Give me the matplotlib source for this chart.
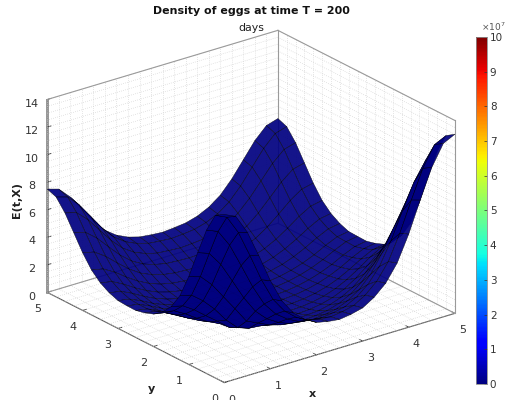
import numpy as np
import matplotlib
matplotlib.use("Agg")
import matplotlib.pyplot as plt
from matplotlib.cm import ScalarMappable
from matplotlib.colors import Normalize

# -----------------------------
# DATA
# -----------------------------
x_vals = np.arange(21) * 0.25
y_vals = np.arange(21) * 0.25
x_ticks = [0, 1, 2, 3, 4, 5]
y_ticks = [0, 1, 2, 3, 4, 5]
z_ticks = [0, 2, 4, 6, 8, 10, 12, 14]
cbar_ticks = [0, 1, 2, 3, 4, 5, 6, 7, 8, 9, 10]
color_max = 1e8

# one row per y, one column per x
density = [
    [12.2, 11.81, 10.41, 8.45, 6.39, 4.67, 3.54, 2.83, 2.35, 2.17, 2.07, 2.19, 2.4, 2.92, 3.69, 4.91, 6.76, 8.98, 11.09, 12.58, 13.0],
    [11.81, 11.42, 10.06, 8.14, 6.13, 4.46, 3.36, 2.66, 2.2, 2.02, 1.93, 2.05, 2.25, 2.76, 3.51, 4.69, 6.5, 8.66, 10.71, 12.17, 12.58],
    [10.41, 10.06, 8.82, 7.09, 5.3, 3.8, 2.82, 2.2, 1.78, 1.63, 1.54, 1.65, 1.83, 2.28, 2.95, 4.01, 5.62, 7.55, 9.4, 10.72, 11.09],
    [8.45, 8.14, 7.1, 5.65, 4.17, 2.95, 2.14, 1.63, 1.29, 1.17, 1.1, 1.19, 1.33, 1.69, 2.24, 3.11, 4.42, 6.01, 7.55, 8.66, 8.98],
    [6.39, 6.14, 5.3, 4.17, 3.05, 1.9, 1.51, 1.12, 0.87, 0.79, 0.72, 0.79, 0.9, 1.16, 1.58, 2.23, 3.22, 4.42, 5.61, 6.49, 6.76],
    [4.67, 4.46, 3.8, 2.95, 1.9, 1.1, 0.8, 0.72, 0.54, 0.49, 0.44, 0.5, 0.56, 0.75, 1.05, 1.52, 2.23, 3.11, 4.01, 4.69, 4.91],
    [3.54, 3.36, 2.82, 2.14, 1.5, 0.8, 0.5, 0.44, 0.32, 0.28, 0.24, 0.28, 0.33, 0.46, 0.69, 1.05, 1.58, 2.24, 2.95, 3.51, 3.69],
    [2.83, 2.67, 2.2, 1.63, 1.12, 0.72, 0.44, 0.27, 0.17, 0.14, 0.11, 0.15, 0.18, 0.28, 0.46, 0.75, 1.16, 1.69, 2.28, 2.76, 2.92],
    [2.35, 2.2, 1.79, 1.3, 0.87, 0.55, 0.32, 0.17, 0.1, 0.08, 0.05, 0.09, 0.11, 0.18, 0.33, 0.56, 0.89, 1.33, 1.83, 2.25, 2.4],
    [2.11, 1.97, 1.58, 1.13, 0.75, 0.47, 0.26, 0.14, 0.08, 0.06, 0.04, 0.06, 0.08, 0.14, 0.27, 0.48, 0.77, 1.15, 1.61, 2.0, 2.14],
    [1.96, 1.82, 1.45, 1.02, 0.67, 0.41, 0.22, 0.1, 0.05, 0.03, 0.02, 0.03, 0.05, 0.1, 0.22, 0.41, 0.68, 1.03, 1.46, 1.83, 1.97],
    [1.97, 1.83, 1.46, 1.04, 0.69, 0.43, 0.24, 0.12, 0.07, 0.05, 0.04, 0.05, 0.07, 0.12, 0.24, 0.43, 0.7, 1.05, 1.48, 1.85, 1.99],
    [2.02, 1.88, 1.51, 1.07, 0.72, 0.45, 0.26, 0.13, 0.08, 0.06, 0.05, 0.06, 0.08, 0.13, 0.26, 0.45, 0.72, 1.07, 1.51, 1.88, 2.02],
    [2.26, 2.12, 1.72, 1.25, 0.85, 0.55, 0.33, 0.2, 0.13, 0.11, 0.09, 0.11, 0.13, 0.2, 0.34, 0.55, 0.86, 1.26, 1.73, 2.13, 2.27],
    [2.65, 2.5, 2.06, 1.54, 1.09, 0.73, 0.49, 0.33, 0.25, 0.23, 0.21, 0.23, 0.26, 0.34, 0.49, 0.74, 1.1, 1.56, 2.08, 2.52, 2.67],
    [3.26, 3.09, 2.61, 2.0, 1.46, 1.03, 0.73, 0.55, 0.45, 0.41, 0.38, 0.42, 0.45, 0.55, 0.74, 1.04, 1.47, 2.02, 2.63, 3.12, 3.29],
    [4.18, 3.99, 3.42, 2.69, 2.01, 1.46, 1.09, 0.85, 0.72, 0.67, 0.63, 0.67, 0.72, 0.86, 1.09, 1.47, 2.03, 2.72, 3.46, 4.03, 4.22],
    [5.3, 5.09, 4.42, 3.54, 2.69, 2.01, 1.54, 1.25, 1.07, 1.01, 0.97, 1.01, 1.08, 1.26, 1.55, 2.02, 2.72, 3.58, 4.47, 5.15, 5.36],
    [6.42, 6.19, 5.43, 4.42, 3.42, 2.61, 2.06, 1.72, 1.5, 1.43, 1.37, 1.43, 1.51, 1.73, 2.08, 2.63, 3.46, 4.47, 5.49, 6.26, 6.5],
    [7.25, 7.0, 6.18, 5.09, 3.99, 3.09, 2.5, 2.12, 1.88, 1.79, 1.73, 1.79, 1.89, 2.13, 2.51, 3.12, 4.03, 5.15, 6.26, 7.09, 7.34],
    [7.5, 7.25, 6.42, 5.3, 4.18, 3.26, 2.65, 2.26, 2.02, 1.92, 1.86, 1.93, 2.03, 2.27, 2.67, 3.29, 4.22, 5.36, 6.5, 7.34, 7.6],
]

# -----------------------------
# SURFACE
# -----------------------------
fig = plt.figure(figsize=(5.08, 4.0), dpi=100)
# 3D axes stay square, so make it bigger than the figure to avoid clipping
side = 560
ax = fig.add_axes([(243.5 - side / 2) / 508, (186 - side / 2) / 400, side / 508, side / 400],
                  projection="3d", proj_type="ortho")
ax.computed_zorder = False
ax.view_init(elev=23.0, azim=-127.5)
ax.set_box_aspect((290, 290, 209), zoom=0.8)
ax.set_xlim(0, 5)
ax.set_ylim(0, 5)
ax.set_zlim(0, 14)

for axis in (ax.xaxis, ax.yaxis, ax.zaxis):
    axis.set_pane_color((1, 1, 1, 1))
    axis.pane.set_edgecolor("white")
    axis._axinfo["grid"]["linewidth"] = 0
    axis._axinfo["tick"]["inward_factor"] = 0
    axis._axinfo["tick"]["outward_factor"] = 0.2
    axis._axinfo["tick"]["linewidth"] = {True: 0.6, False: 0.6}
    axis._axinfo["tick"]["color"] = "#444444"
    axis.line.set_color("#555555")
    axis.line.set_linewidth(0.8)
ax.zaxis.line.set_color("#8c8c8c")
ax.zaxis.line.set_linewidth(2.0)
ax.set_xticks(x_ticks)
ax.set_yticks(y_ticks)
ax.set_zticks(z_ticks)
ax.tick_params(labelsize=8, colors="#333333")
ax.tick_params(axis="x", pad=1)
ax.tick_params(axis="y", pad=1)
ax.tick_params(axis="z", pad=0)

# dotted wall and floor grids
grid_style = dict(color="#cccccc", lw=0.5, ls=(0, (1, 2)), zorder=1)
for t in np.arange(0, 5.01, 0.25):
    ax.plot([t, t], [0, 5], [0, 0], **grid_style)
    ax.plot([0, 5], [t, t], [0, 0], **grid_style)
    ax.plot([t, t], [5, 5], [0, 14], **grid_style)
    ax.plot([5, 5], [t, t], [0, 14], **grid_style)
for h in np.arange(0, 14.01, 0.5):
    ax.plot([0, 5], [5, 5], [h, h], **grid_style)
    ax.plot([5, 5], [0, 5], [h, h], **grid_style)

# box edges behind the surface
edge_style = dict(color="#9a9a9a", lw=0.8, zorder=1.5)
ax.plot([0, 5], [5, 5], [14, 14], **edge_style)
ax.plot([5, 5], [5, 0], [14, 14], **edge_style)
ax.plot([5, 5], [0, 0], [0, 14], **edge_style)
ax.plot([5, 5], [5, 5], [0, 14], **edge_style)
ax.plot([0, 5], [5, 5], [0, 0], **edge_style)
ax.plot([5, 5], [0, 5], [0, 0], **edge_style)

X, Y = np.meshgrid(x_vals, y_vals)
Z = np.array(density)
ax.plot_surface(X, Y, Z, rstride=1, cstride=1, cmap="jet",
                norm=Normalize(0, color_max), shade=False, alpha=0.92,
                edgecolor=(0, 0, 0, 0.55), linewidth=0.3, antialiased=True, zorder=3)

# -----------------------------
# TEXT
# -----------------------------
fig.text(251 / 508, 1 - 11 / 400, "Density of eggs at time T = 200", ha="center", va="center",
         fontsize=7.9, fontweight="bold", color="#111111")
fig.text(251 / 508, 1 - 28 / 400, "days", ha="center", va="center", fontsize=7.9, color="#222222")
fig.text(312 / 508, 1 - 394 / 400, "x", ha="center", va="center", fontsize=8, fontweight="bold", color="#222222")
fig.text(151 / 508, 1 - 389 / 400, "y", ha="center", va="center", fontsize=8, fontweight="bold", color="#222222")
fig.text(17 / 508, 1 - 200 / 400, "E(t,X)", ha="center", va="center", rotation=90,
         fontsize=8, fontweight="bold", color="#222222")

# -----------------------------
# COLORBAR
# -----------------------------
cax = fig.add_axes([476 / 508, 1 - 384 / 400, 11 / 508, 347 / 400])
sm = ScalarMappable(norm=Normalize(0, 10), cmap="jet")
cb = fig.colorbar(sm, cax=cax, ticks=cbar_ticks)
cb.ax.tick_params(labelsize=7.5, length=2, width=0.5, direction="in", pad=2, colors="#333333")
cb.outline.set_edgecolor("#8c8c8c")
cb.outline.set_linewidth(0.6)
fig.text(481 / 508, 1 - 27 / 400, r"$\times$10$^7$", ha="left", va="center", fontsize=6.5, color="#555555")

fig.savefig("out.png", dpi=100)
